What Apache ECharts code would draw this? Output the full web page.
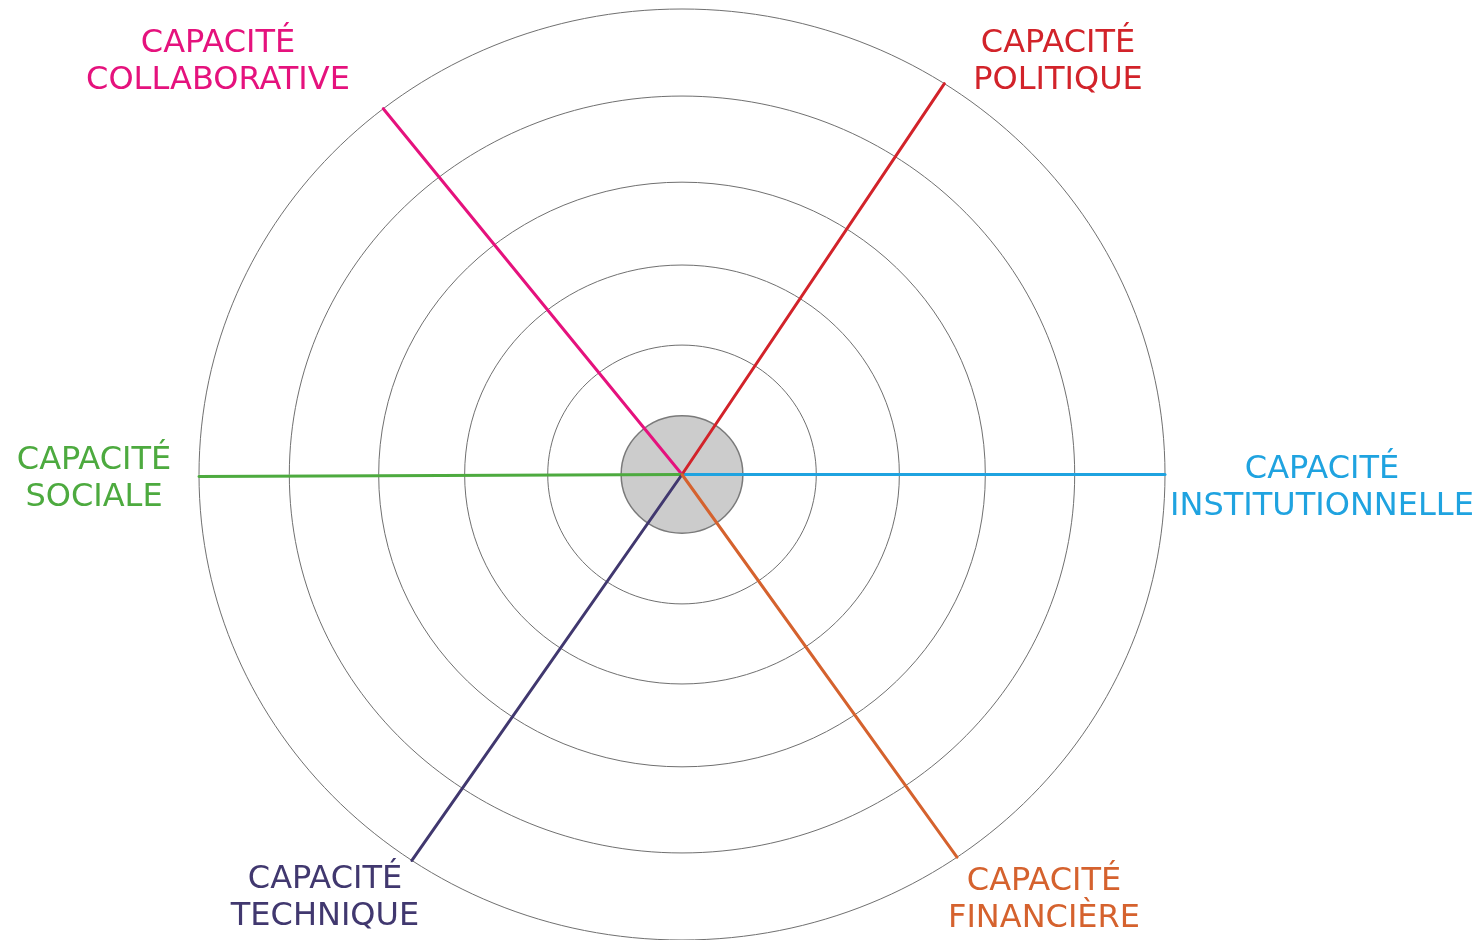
<!DOCTYPE html>
<html>
<head>
<meta charset="utf-8">
<script src="https://cdn.jsdelivr.net/npm/echarts@6/dist/echarts.min.js"></script>
<style>
html,body{margin:0;padding:0;background:#fff;}
#chart{width:1482px;height:940px;}
</style>
</head>
<body>
<div id="chart"></div>
<script>
// ---- data ----
const capacities = ['CAPACITÉ\nINSTITUTIONNELLE','CAPACITÉ\nPOLITIQUE','CAPACITÉ\nCOLLABORATIVE','CAPACITÉ\nSOCIALE','CAPACITÉ\nTECHNIQUE','CAPACITÉ\nFINANCIÈRE'];
const spokeAngles = [0, 57.1, 128.2, 180.25, 236.0, 304.7];   // degrees
const spokeLengths = [100, 100, 100, 100, 100, 100];
const ringRadii = [27.8, 45, 62.8, 81.3, 100];
const coreRadius = [12.6];
const colors = ['#1FA3E0','#D2232A','#E5127D','#4DAA3F','#41386F','#D5622E'];

const chart = echarts.init(document.getElementById('chart'), null, {renderer:'canvas'});

function ringItem(fill, stroke, lw){
  return function(params, api){
    const c = api.coord([0,0]);
    const s = api.size([api.value(0), api.value(0)]);
    return {type:'ellipse', shape:{cx:c[0], cy:c[1], rx:s[0], ry:s[1]},
            style:{fill:fill, stroke:stroke, lineWidth:lw}};
  };
}

const series = [
  {type:'custom', renderItem: ringItem('none','#707070',1), data: ringRadii.map(r=>[r]), z:1, silent:true},
  {type:'custom', renderItem: ringItem('#cccccc','#7a7a7a',1.5), data: coreRadius.map(r=>[r]), z:2, silent:true}
];
capacities.forEach((name,i)=>{
  const a = spokeAngles[i]*Math.PI/180, L = spokeLengths[i];
  series.push({
    type:'line', name:name, z:3+i, silent:true,
    showSymbol:false, symbol:'none',
    lineStyle:{color:colors[i], width:3, cap:'round'},
    data:[[0,0],[L*Math.cos(a), L*Math.sin(a)]]
  });
});

const labelPos = [[1322,488],[1058,62],[218,62],[94,479],[325,898],[1044,900]];
const graphic = capacities.map((t,i)=>({
  type:'text', x:labelPos[i][0], y:labelPos[i][1], z:10,
  style:{text:t, fill:colors[i], fontSize:32, fontFamily:'"DejaVu Sans"', fontWeight:'normal',
         textAlign:'center', textVerticalAlign:'middle', lineHeight:37}
}));

chart.setOption({
  animation:false,
  backgroundColor:'#ffffff',
  grid:{left:199, top:9, width:966, height:932, containLabel:false},
  xAxis:{type:'value', min:-100, max:100, show:false},
  yAxis:{type:'value', min:-100, max:100, show:false},
  series: series,
  graphic: graphic
});
</script>
</body>
</html>
